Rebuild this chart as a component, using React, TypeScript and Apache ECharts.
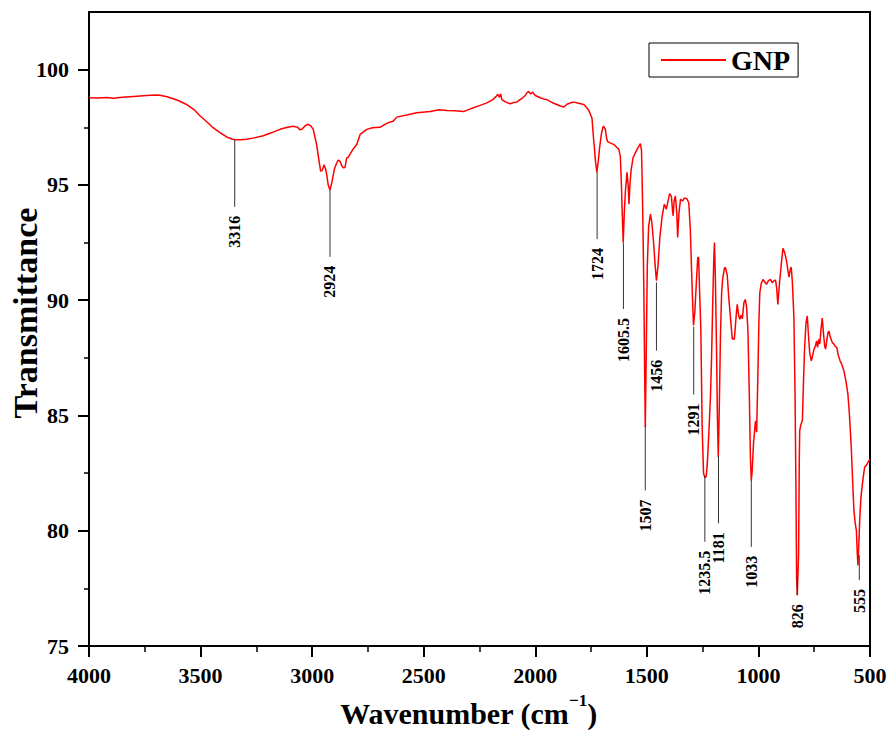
import React, { useEffect, useRef } from "react";
import * as echarts from "echarts";

const wavenumbers = [
  4000, 3960, 3920, 3892, 3850, 3800, 3742, 3700, 3683, 3650,
  3623, 3600, 3563, 3530, 3503, 3470, 3444, 3410, 3383, 3360,
  3346, 3320, 3294, 3260, 3219, 3180, 3144, 3110, 3085, 3065,
  3055, 3045, 3030, 3017, 3005, 2995, 2988, 2980, 2970, 2962,
  2955, 2947, 2940, 2935, 2928, 2920, 2912, 2900, 2890, 2883,
  2875, 2867, 2860, 2853, 2845, 2838, 2820, 2800, 2785, 2770,
  2755, 2730, 2696, 2666, 2636, 2621, 2576, 2531, 2471, 2430,
  2396, 2360, 2322, 2290, 2247, 2217, 2190, 2175, 2168, 2160,
  2155, 2150, 2130, 2112, 2095, 2082, 2060, 2045, 2037, 2030,
  2022, 2012, 2000, 1978, 1960, 1948, 1920, 1888, 1872, 1858,
  1843, 1828, 1810, 1783, 1776, 1761, 1753, 1746, 1738, 1735,
  1730, 1724, 1718, 1712, 1704, 1697, 1694, 1686, 1680, 1676,
  1660, 1649, 1633, 1626, 1619, 1614, 1611, 1606, 1601, 1596,
  1589, 1584, 1580, 1576, 1571, 1562, 1544, 1529, 1524, 1521,
  1518, 1514, 1510, 1507, 1503, 1498, 1492, 1484, 1478, 1470,
  1462, 1457, 1450, 1442, 1432, 1422, 1417, 1413, 1405, 1398,
  1390, 1385, 1382, 1378, 1372, 1366, 1362, 1356, 1349, 1340,
  1333, 1327, 1319, 1312, 1305, 1297, 1291, 1285, 1278, 1272,
  1268, 1264, 1258, 1252, 1246, 1240, 1234, 1230, 1227, 1221,
  1215, 1210, 1205, 1200, 1197, 1193, 1188, 1184, 1180, 1176,
  1170, 1165, 1160, 1152, 1148, 1140, 1133, 1125, 1117, 1113,
  1108, 1100, 1095, 1088, 1083, 1078, 1072, 1065, 1059, 1053,
  1047, 1041, 1036, 1032, 1028, 1022, 1017, 1013, 1008, 1003,
  998, 994, 988, 980, 972, 964, 955, 946, 938, 930,
  923, 918, 913, 905, 895, 890, 882, 874, 868, 863,
  858, 853, 848, 841, 836, 832, 829, 826, 823, 820,
  817, 815, 810, 803, 798, 793, 787, 781, 776, 770,
  763, 757, 751, 745, 739, 735, 730, 725, 720, 714,
  708, 703, 699, 693, 688, 684, 678, 674, 669, 662,
  656, 649, 642, 634, 626, 617, 608, 599, 592, 584,
  578, 572, 566, 561, 557, 554, 551, 545, 540, 534,
  528, 524, 516, 509, 500,
];

const transmittance = [
  98.78, 98.77, 98.79, 98.76, 98.8, 98.84, 98.88, 98.9, 98.89, 98.82,
  98.74, 98.66, 98.49, 98.27, 98.0, 97.72, 97.48, 97.25, 97.08, 96.99,
  96.96, 96.96, 96.98, 97.04, 97.13, 97.27, 97.41, 97.5, 97.54, 97.5,
  97.39, 97.42, 97.58, 97.63, 97.55, 97.41, 97.1, 96.76, 96.1, 95.6,
  95.62, 95.87, 95.7, 95.46, 95.0, 94.78, 95.1, 95.7, 95.95, 96.08,
  96.02, 95.83, 95.74, 95.75, 96.17, 96.2, 96.5, 96.75, 97.19, 97.3,
  97.41, 97.48, 97.5, 97.67, 97.77, 97.94, 98.03, 98.13, 98.18, 98.26,
  98.23, 98.22, 98.18, 98.3, 98.45, 98.56, 98.7, 98.85, 98.93, 98.8,
  98.95, 98.7, 98.58, 98.52, 98.58, 98.6, 98.75, 98.88, 99.0, 99.06,
  98.95, 99.02, 98.88, 98.78, 98.72, 98.7, 98.55, 98.42, 98.38, 98.5,
  98.56, 98.59, 98.55, 98.49, 98.42, 98.25, 98.06, 97.9, 96.9, 96.6,
  96.0, 95.55, 96.0, 96.6, 97.19, 97.5, 97.55, 97.41, 97.0, 96.88,
  96.8, 96.76, 96.61, 96.55, 96.25, 95.0, 94.0, 92.5, 93.8, 94.74,
  95.55, 95.0, 94.16, 95.0, 95.6, 96.18, 96.54, 96.79, 96.5, 95.17,
  93.5, 90.85, 87.0, 84.5, 87.5, 91.5, 93.2, 93.73, 93.4, 92.5,
  91.4, 90.85, 91.5, 92.7, 93.6, 94.16, 94.05, 93.95, 94.3, 94.62,
  94.5, 93.9, 93.66, 94.3, 94.52, 93.8, 92.72, 93.8, 94.38, 94.3,
  94.42, 94.42, 94.38, 94.2, 93.01, 90.5, 88.9, 89.5, 90.8, 91.85,
  91.85, 90.5, 88.7, 84.4, 82.5, 82.3, 82.35, 82.8, 83.3, 84.5,
  85.8, 87.5, 89.8, 91.8, 92.5, 91.0, 88.0, 85.0, 83.2, 85.0,
  88.5, 90.3, 90.95, 91.4, 91.42, 91.1, 90.12, 89.2, 88.3, 88.35,
  88.3, 89.3, 89.82, 89.3, 89.17, 89.35, 89.2, 89.9, 90.03, 89.7,
  88.66, 86.0, 83.2, 82.17, 82.6, 83.8, 84.34, 84.77, 84.27, 86.5,
  89.0, 90.3, 90.7, 90.9, 90.8, 90.69, 90.85, 90.9, 90.75, 90.85,
  90.86, 90.5, 89.82, 90.8, 91.8, 92.25, 92.05, 91.7, 91.3, 91.0,
  91.3, 91.44, 90.8, 89.24, 86.0, 82.0, 78.0, 77.2, 77.2, 79.0,
  83.0, 84.34, 84.6, 84.77, 86.5, 87.95, 89.0, 89.32, 88.5, 87.7,
  87.37, 87.6, 87.88, 88.0, 88.23, 87.95, 88.3, 88.1, 88.7, 89.22,
  88.5, 88.0, 87.88, 88.3, 88.6, 88.66, 88.4, 88.3, 88.16, 88.1,
  88.0, 87.95, 87.6, 87.37, 87.2, 86.94, 86.5, 85.93, 85.0, 83.62,
  82.2, 80.87, 80.3, 80.01, 79.0, 78.49, 79.2, 80.73, 81.5, 82.03,
  82.5, 82.75, 82.85, 82.97, 83.12,
];

const peakLabels = ["3316", "2924", "1724", "1605.5", "1456", "1291", "1507", "1235.5", "1181", "1033", "826", "555"];
const peakPositions = [3347, 2920, 1723, 1605, 1457, 1290, 1507, 1240, 1179, 1032, 826, 548];
const peakTops = [96.95, 94.78, 95.56, 92.5, 90.77, 88.85, 84.57, 82.4, 83.23, 82.19, 77.99, 78.94];
const peakBottoms = [94.05, 91.88, 92.65, 89.62, 87.81, 85.91, 81.75, 79.52, 80.32, 79.3, 77.2, 77.86];

const yMajorTicks = [75, 80, 85, 90, 95, 100];
const yMinorTicks = [77.5, 82.5, 87.5, 92.5, 97.5];

const seriesName = "GNP";
const FONT = '"Liberation Serif", "Times New Roman", serif';

export default function App() {
  const ref = useRef<HTMLDivElement>(null);

  useEffect(() => {
    if (!ref.current) return;
    const chart = echarts.init(ref.current, undefined, { renderer: "svg" });
    const lineData = wavenumbers.map((w, i) => [w, transmittance[i]]);
    const peakData = peakPositions.map((p, i) => [p, peakTops[i], peakBottoms[i]]);

    chart.setOption({
      animation: false,
      backgroundColor: "#ffffff",
      grid: {
        left: 89,
        right: 20,
        top: 12,
        bottom: 85,
        containLabel: false,
        outerBoundsMode: "none",
        show: true,
        borderColor: "#000",
        borderWidth: 2,
        backgroundColor: "transparent",
      },
      legend: {
        data: [{ name: seriesName, icon: "rect" }],
        left: 649,
        top: 43,
        padding: [3, 8, 3, 12],
        borderColor: "#000",
        borderWidth: 1,
        itemWidth: 65,
        itemHeight: 2,
        itemStyle: { color: "#ff0000", borderWidth: 0 },
        lineStyle: { width: 0 },
        textStyle: { fontSize: 28, fontWeight: "bold", fontFamily: FONT, color: "#000" },
      },
      xAxis: {
        type: "value",
        min: 500,
        max: 4000,
        interval: 500,
        inverse: true,
        axisLine: { show: true, onZero: false, lineStyle: { color: "#000", width: 2 } },
        axisTick: { show: true, inside: false, length: 11, lineStyle: { color: "#000", width: 2 } },
        minorTick: { show: true, splitNumber: 2, length: 6, lineStyle: { color: "#000", width: 1.5 } },
        splitLine: { show: false },
        axisLabel: {
          color: "#000",
          fontSize: 22,
          fontWeight: "bold",
          fontFamily: FONT,
          margin: 18,
          formatter: (v: number) => String(v),
        },
        name: "{t|Wavenumber (cm}{s|\u22121}{t|)}",
        nameLocation: "middle",
        nameGap: 46,
        nameTextStyle: {
          padding: [0, 22, 0, 0],
          rich: {
            t: { fontSize: 30, fontWeight: "bold", fontFamily: FONT, color: "#000", lineHeight: 36, verticalAlign: "bottom" },
            s: { fontSize: 17, fontWeight: "bold", fontFamily: FONT, color: "#000", lineHeight: 17, verticalAlign: "top" },
          },
        },
      },
      yAxis: [
        {
          type: "value",
          min: 75,
          max: 102.5,
          interval: 5,
          axisLine: { show: true, onZero: false, lineStyle: { color: "#000", width: 2 } },
          axisTick: { show: true, inside: false, length: 11, customValues: yMajorTicks, lineStyle: { color: "#000", width: 2 } },
          splitLine: { show: false },
          axisLabel: {
            color: "#000",
            fontSize: 22,
            fontWeight: "bold",
            fontFamily: FONT,
            margin: 20,
            customValues: yMajorTicks,
            formatter: (v: number) => String(v),
          },
          name: "Transmittance",
          nameLocation: "middle",
          nameGap: 47,
          nameMoveOverlap: false,
          nameTextStyle: { fontSize: 34, fontWeight: "bold", fontFamily: FONT, color: "#000", padding: [0, 0, 0, 32] },
        },
        {
          type: "value",
          min: 75,
          max: 102.5,
          position: "left",
          axisLine: { show: false },
          axisTick: { show: true, inside: false, length: 5, customValues: yMinorTicks, lineStyle: { color: "#000", width: 1.5 } },
          axisLabel: { show: false },
          splitLine: { show: false },
        },
      ],
      series: [
        {
          name: seriesName,
          type: "line",
          data: lineData,
          symbol: "none",
          showSymbol: false,
          smooth: false,
          lineStyle: { color: "#ff0000", width: 1.5 },
          itemStyle: { color: "#ff0000" },
          z: 2,
        },
        {
          name: "peaks",
          type: "custom",
          coordinateSystem: "cartesian2d",
          xAxisIndex: 0,
          yAxisIndex: 0,
          silent: true,
          z: 3,
          data: peakData,
          encode: { x: 0, y: [1, 2] },
          renderItem: (params: any, api: any) => {
            const i = params.dataIndex;
            const p1 = api.coord([api.value(0), api.value(1)]);
            const p2 = api.coord([api.value(0), api.value(2)]);
            return {
              type: "group",
              children: [
                {
                  type: "line",
                  shape: { x1: p1[0], y1: p1[1], x2: p2[0], y2: p2[1] },
                  style: { stroke: "#333", lineWidth: 1 },
                },
                {
                  type: "text",
                  x: p2[0],
                  y: p2[1] + 9,
                  rotation: Math.PI / 2,
                  style: {
                    text: peakLabels[i],
                    font: `bold 16px ${FONT}`,
                    fill: "#000",
                    align: "right",
                    verticalAlign: "middle",
                  },
                },
              ],
            };
          },
        },
      ],
    });

    return () => chart.dispose();
  }, []);

  return (
    <div
      ref={ref}
      style={{ position: "fixed", left: 0, top: 0, width: 890, height: 731, background: "#fff" }}
    />
  );
}
